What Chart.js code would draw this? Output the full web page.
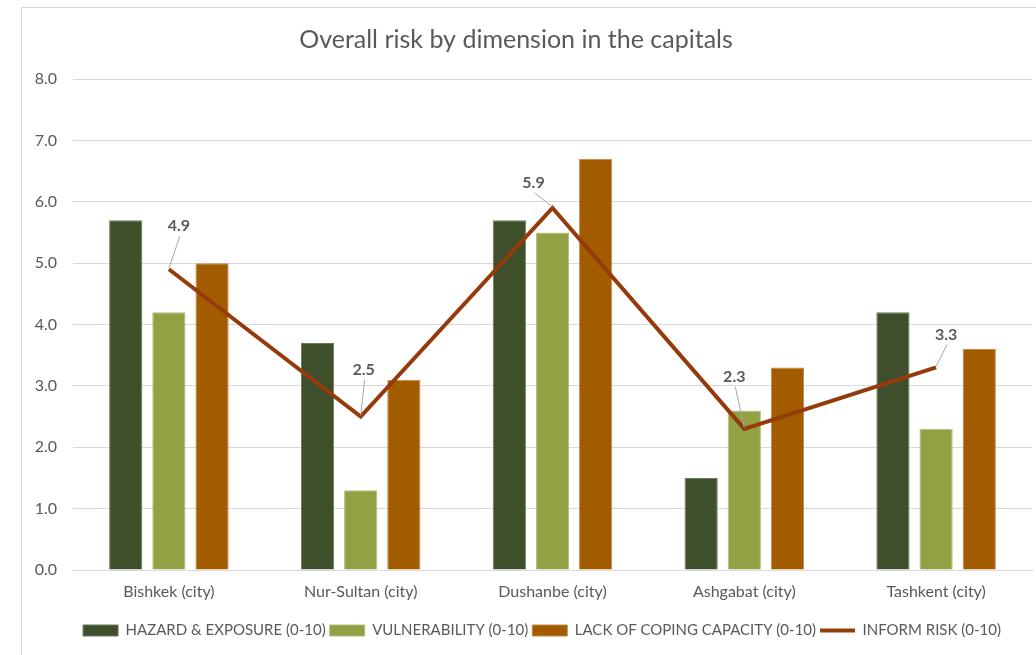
<!DOCTYPE html>
<html>
<head>
<meta charset="utf-8">
<script src="https://cdn.jsdelivr.net/npm/chart.js@4"></script>
<style>
  html, body { margin: 0; padding: 0; background: #fff; overflow: hidden; }
  #wrap { position: relative; width: 1036px; height: 655px; }
  #frame { position: absolute; left: 21px; top: 7px; width: 1100px; height: 700px; border: 1px solid #d9d9d9; box-sizing: border-box; }
  canvas { position: absolute; left: 0; top: 0; }
</style>
</head>
<body>
<div id="wrap">
  <div id="frame"></div>
  <canvas id="chart" width="1036" height="655"></canvas>
</div>
<script>
const cities = ['Bishkek (city)', 'Nur-Sultan (city)', 'Dushanbe (city)', 'Ashgabat (city)', 'Tashkent (city)'];
const hazardExposure = [5.7, 3.7, 5.7, 1.5, 4.2];
const vulnerability = [4.2, 1.3, 5.5, 2.6, 2.3];
const lackOfCoping = [5.0, 3.1, 6.7, 3.3, 3.6];
const informRisk = [4.9, 2.5, 5.9, 2.3, 3.3];

// where each risk label sits relative to its point, in pixels
const labelOffsets = [[10, -43], [3, -47], [-19, -25], [-10, -52], [10, -33]];

const FONT = 'Lato, "Open Sans", sans-serif';
const GREY = '#595959';

const leaderLabels = {
  id: 'leaderLabels',
  afterDatasetsDraw(chart) {
    const meta = chart.getDatasetMeta(3);
    const ctx = chart.ctx;
    ctx.save();
    meta.data.forEach((pt, i) => {
      const [dx, dy] = labelOffsets[i];
      const lx = pt.x + dx, ly = pt.y + dy;
      ctx.strokeStyle = '#a6a6a6';
      ctx.lineWidth = 1;
      ctx.beginPath();
      ctx.moveTo(lx + 1, ly + 10);
      ctx.lineTo(pt.x, pt.y - 1);
      ctx.stroke();
      ctx.fillStyle = GREY;
      ctx.font = 'bold 16px ' + FONT;
      ctx.textAlign = 'center';
      ctx.textBaseline = 'middle';
      ctx.fillText(informRisk[i].toFixed(1), lx, ly);
    });
    ctx.restore();
  }
};

// nudge the legend row to the right, like the original
const shiftLegend = {
  id: 'shiftLegend',
  afterLayout(chart) {
    chart.legend.left += 26;
    chart.legend.right += 26;
  }
};

new Chart(document.getElementById('chart'), {
  type: 'bar',
  data: {
    labels: cities,
    datasets: [
      { label: 'HAZARD & EXPOSURE (0-10)', data: hazardExposure, backgroundColor: '#3f4f2b', borderColor: '#6b7a58', borderWidth: 1, order: 1 },
      { label: 'VULNERABILITY (0-10)', data: vulnerability, backgroundColor: '#93a043', borderColor: '#b4bf77', borderWidth: 1, order: 1 },
      { label: 'LACK OF COPING CAPACITY (0-10)', data: lackOfCoping, backgroundColor: '#a35b00', borderColor: '#c58a45', borderWidth: 1, order: 1 },
      { type: 'line', label: 'INFORM RISK (0-10)', data: informRisk, borderColor: '#953b0b', backgroundColor: '#953b0b', borderWidth: 4, pointRadius: 0, tension: 0, order: 0 }
    ]
  },
  options: {
    responsive: false,
    animation: false,
    datasets: { bar: { categoryPercentage: 0.675, barPercentage: 0.77 } },
    layout: { padding: { left: 0, right: 4, top: 0, bottom: 7 } },
    plugins: {
      title: {
        display: true,
        text: 'Overall risk by dimension in the capitals',
        color: GREY,
        font: { family: FONT, size: 25, weight: 'normal' },
        padding: { top: 25, bottom: 24 }
      },
      legend: {
        position: 'bottom',
        labels: {
          color: GREY,
          font: { family: FONT, size: 15 },
          usePointStyle: true,
          pointStyleWidth: 35,
          boxHeight: 11,
          padding: 4,
          sort: (a, b) => a.datasetIndex - b.datasetIndex,
          generateLabels(chart) {
            const items = Chart.defaults.plugins.legend.labels.generateLabels(chart);
            return items.map(it => {
              if (it.datasetIndex === 3) {
                it.pointStyle = 'line';
                it.lineWidth = 4;
              } else {
                it.pointStyle = 'rect';
                it.lineWidth = 1;
              }
              return it;
            });
          }
        }
      },
      tooltip: { enabled: false }
    },
    scales: {
      x: {
        grid: { display: false, drawTicks: false },
        border: { color: '#d9d9d9' },
        ticks: { color: GREY, font: { family: FONT, size: 16 }, padding: 12 },
        afterFit(scale) { scale.height = 49; }
      },
      y: {
        min: 0, max: 8,
        grid: { color: '#d9d9d9', drawTicks: false },
        border: { display: false },
        ticks: { stepSize: 1, color: GREY, font: { family: FONT, size: 16 }, padding: 16, callback: v => v.toFixed(1) },
        afterFit(scale) { scale.width = 73; }
      }
    }
  },
  plugins: [leaderLabels, shiftLegend]
});
</script>
</body>
</html>
